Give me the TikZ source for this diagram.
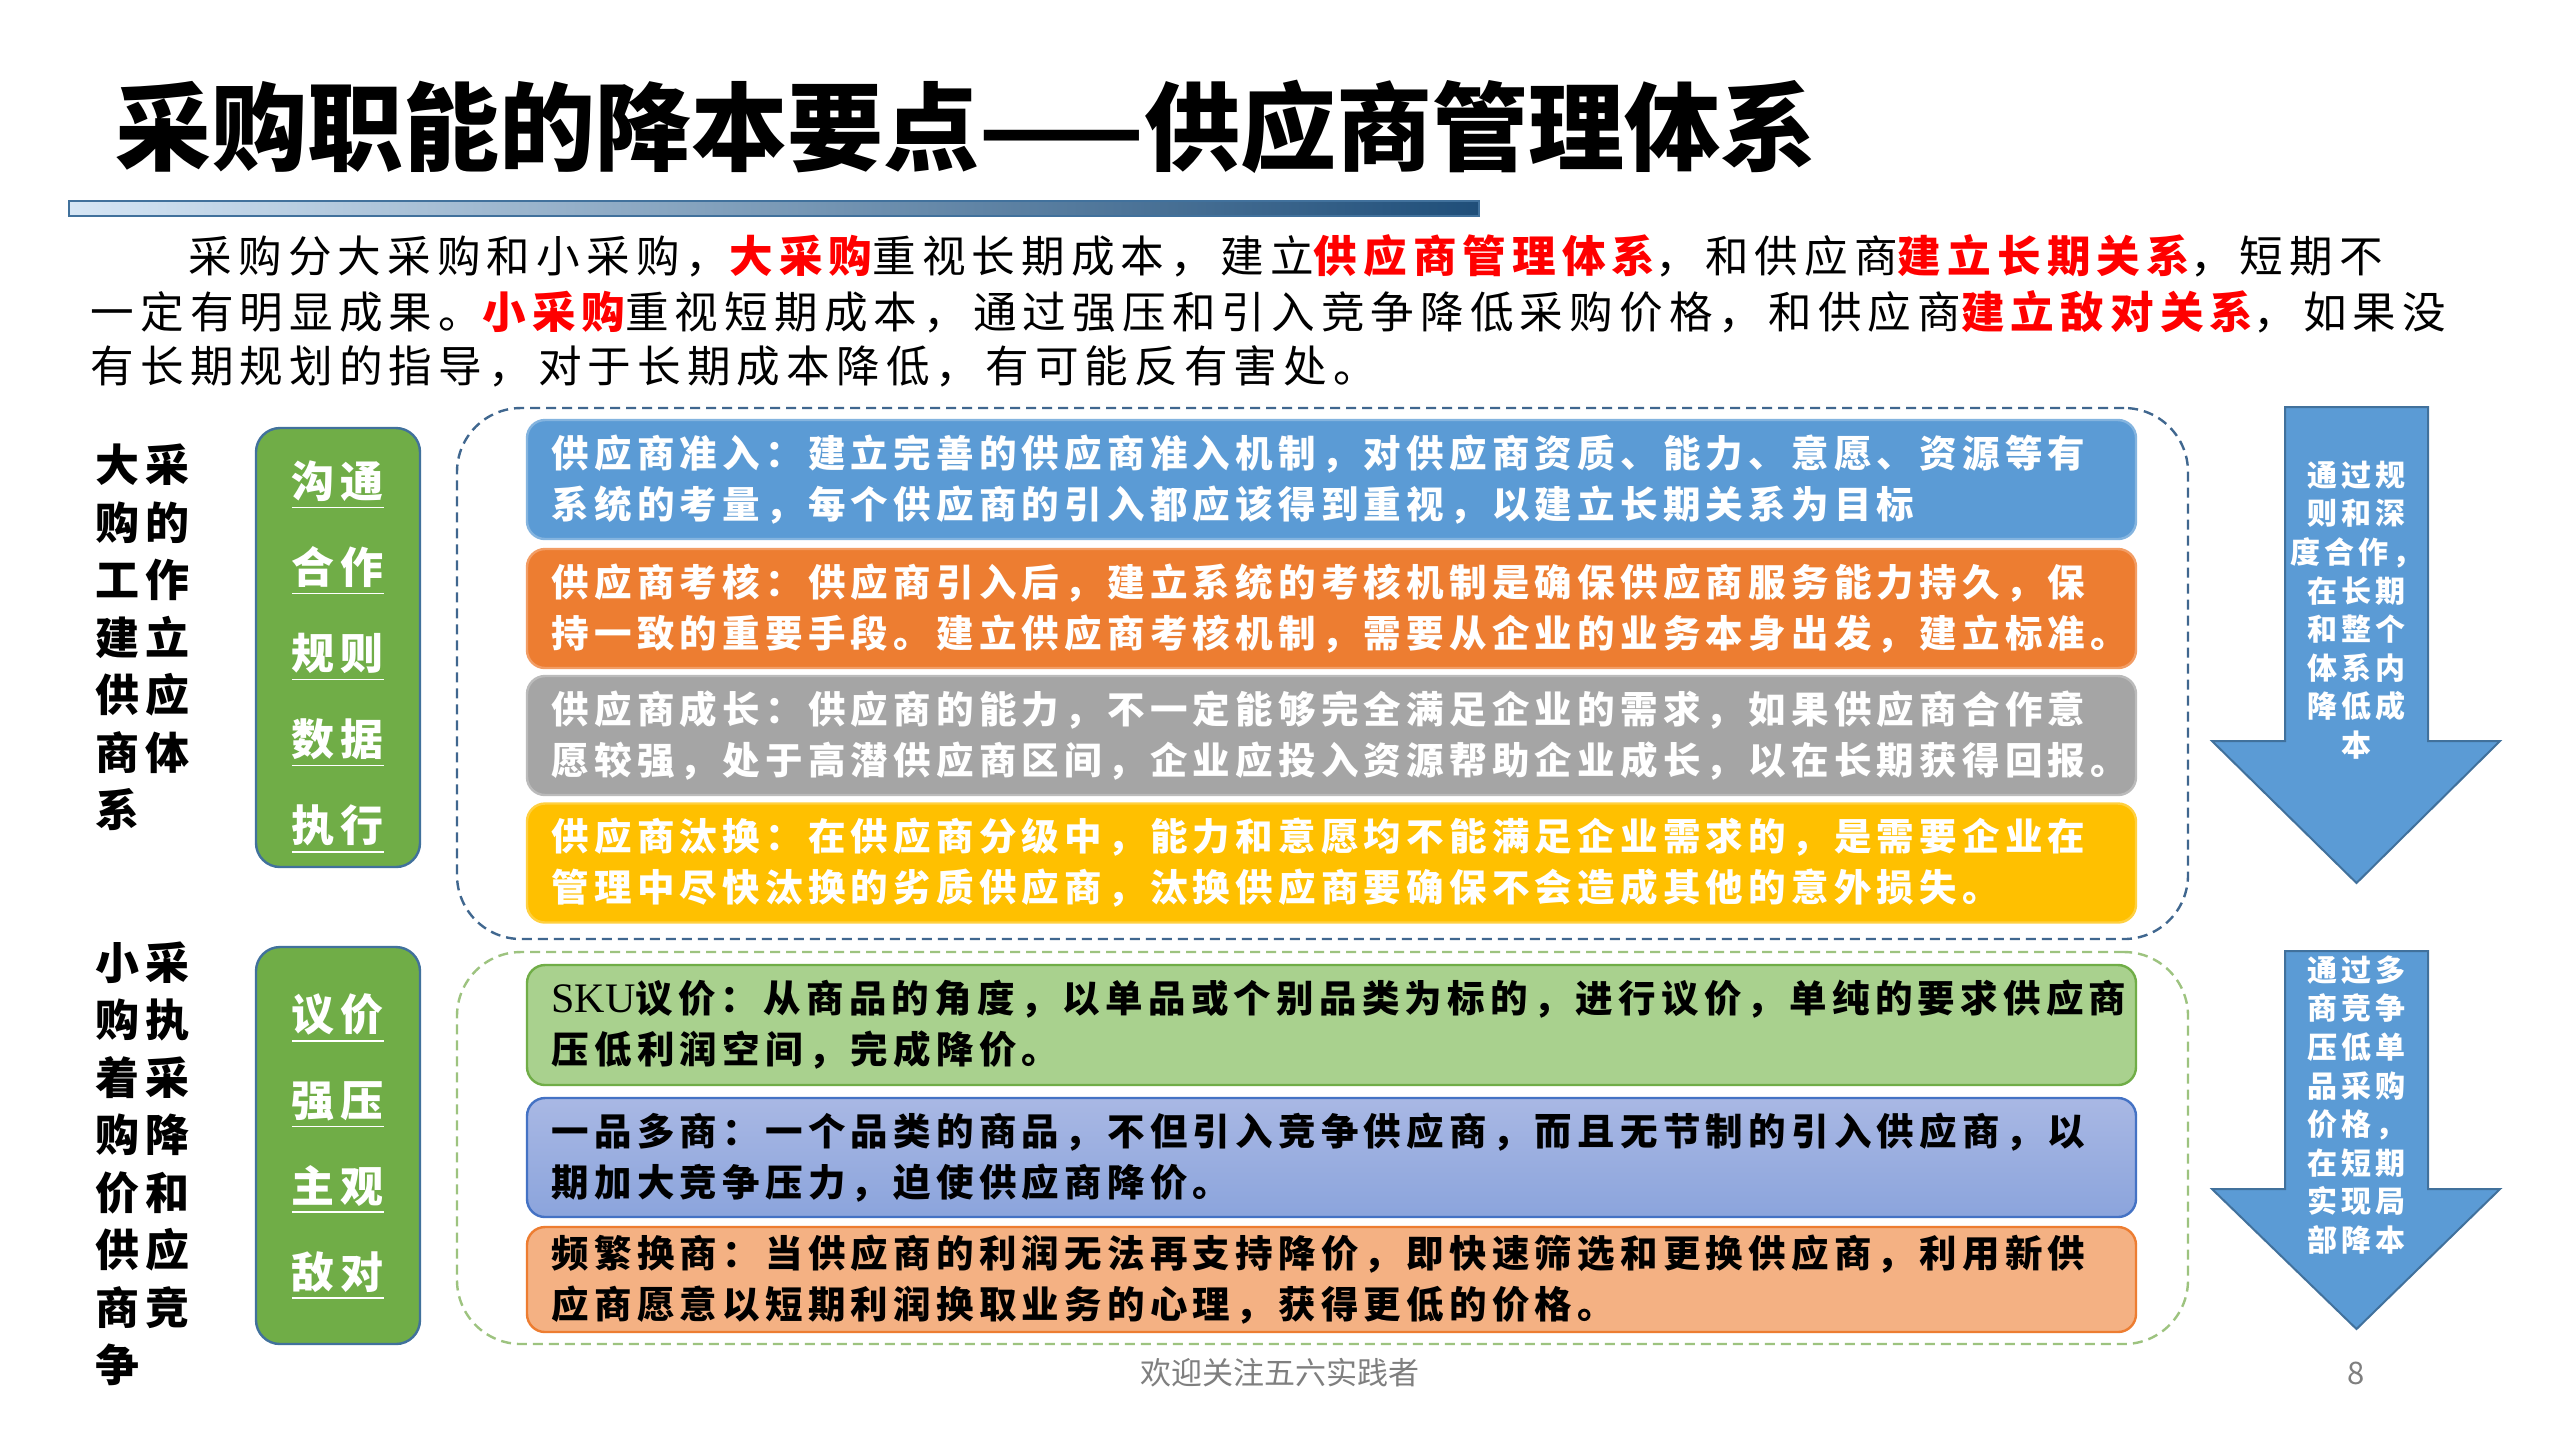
\documentclass[tikz,border=0pt]{standalone}
\usepackage{fontspec}
\setmainfont{Noto Sans CJK SC}
\newfontfamily\spaced[LetterSpace=14]{Noto Sans CJK SC}
\newfontfamily\latinserif{Liberation Serif}
\usepackage{tikz}
\definecolor{barblue}{HTML}{1F4E79}
\definecolor{barlight}{HTML}{D6E6F5}
\definecolor{barmid}{HTML}{7FA9D4}
\definecolor{tagfill}{HTML}{70AD47}
\definecolor{tagedge}{HTML}{41719C}
\definecolor{stepblue}{HTML}{5B9BD5}
\definecolor{steporange}{HTML}{ED7D31}
\definecolor{stepgray}{HTML}{A5A5A5}
\definecolor{stepgold}{HTML}{FFC000}
\definecolor{tacgreen}{HTML}{A9D18E}
\definecolor{tacbluetop}{HTML}{A9B8E4}
\definecolor{tacbluebot}{HTML}{8BA4DC}
\definecolor{tacblueedge}{HTML}{4472C4}
\definecolor{tacsalmon}{HTML}{F4B183}
\definecolor{framegreen}{HTML}{9DC37F}
\definecolor{frameblue}{HTML}{40678F}
\definecolor{footgray}{HTML}{7F7F7F}
\newcommand{\redword}[1]{{\color{red}\bfseries #1}}
\tikzset{
	titletxt/.style={font=\fontsize{24}{28}\selectfont\bfseries, inner sep=0pt, anchor=west},
	introtxt/.style={font=\spaced\fontsize{10.9}{13}\selectfont, inner sep=0pt, anchor=west},
	sidetxt/.style={font=\spaced\bfseries\fontsize{11}{14.375}\selectfont, align=left, inner sep=0pt, anchor=west},
	tagpanel/.style={draw=tagedge, fill=tagfill, rounded corners=6pt, line width=0.6pt, minimum width=41pt},
	tagtxt/.style={text=white, font=\spaced\bfseries\fontsize{10.75}{21.5}\selectfont, align=center, inner sep=0pt},
	dashframe/.style={draw, rounded corners=16pt, line width=0.6pt, dash pattern=on 2.5pt off 1.5pt, minimum width=432.75pt},
	stepbox/.style={rounded corners=4.5pt, line width=0.6pt, minimum width=402.25pt, minimum height=29.75pt,
		text width=390pt, align=left, inner xsep=0pt, inner ysep=0pt, font=\spaced\bfseries\fontsize{9.375}{12.75}\selectfont},
	downarrow/.style={fill=stepblue, draw=tagedge, line width=0.5pt},
	arrowtxt/.style={text=white, font=\spaced\bfseries\fontsize{7.5}{9.65}\selectfont, align=center, inner sep=0pt},
	footer/.style={text=footgray, font=\fontsize{7.75}{9}\selectfont, inner sep=0pt},
}

\begin{document}
\begin{tikzpicture}[x=0.25pt,y=-0.25pt]
\useasboundingbox (0,0) rectangle (2560,1440);
\fill[white] (0,0) rectangle (2560,1440);
% TITLE
\node[titletxt] (title) at (115,127) {采购职能的降本要点——供应商管理体系};
\shade[left color=barlight, middle color=barmid, right color=barblue] (69,201) rectangle (1479,216);
\draw[tagedge, line width=0.4pt] (69,201) rectangle (1479,216);
% INTRO
\node[introtxt] (intro1) at (188,256) {采购分大采购和小采购，\redword{大采购}重视长期成本，建立\redword{供应商管理体系}，和供应商\redword{建立长期关系}，短期不};
\node[introtxt] (intro2) at (90,312) {一定有明显成果。\redword{小采购}重视短期成本，通过强压和引入竞争降低采购价格，和供应商\redword{建立敌对关系}，如果没};
\node[introtxt] (intro3) at (90,366) {有长期规划的指导，对于长期成本降低，有可能反有害处。};
% LEFT LABELS
\node[sidetxt] (bigside) at (95,637.5) {大采\\购的\\工作\\建立\\供应\\商体\\系};
\node[sidetxt] (smallside) at (95,1164) {小采\\购执\\着采\\购降\\价和\\供应\\商竞\\争};
% GREEN PANELS
\node[tagpanel, minimum height=109.75pt] (bigpanel) at (338,647.5) {};
\node[tagtxt] (bigtags) at (338,657.5) {\underline{沟通}\\\underline{合作}\\\underline{规则}\\\underline{数据}\\\underline{执行}};
\node[tagpanel, minimum height=99.25pt] (smallpanel) at (338,1145.5) {};
\node[tagtxt] (smalltags) at (338,1147) {\underline{议价}\\\underline{强压}\\\underline{主观}\\\underline{敌对}};
% DASHED FRAMES
\node[dashframe, frameblue, minimum height=132.75pt] (bigframe) at (1322.5,673.5) {};
\node[dashframe, framegreen, minimum height=98pt] (smallframe) at (1322.5,1148) {};
% SUPPLIER STEPS
\node[stepbox, fill=stepblue, draw=stepblue!75!white, text=white] (admit) at (1331.5,479.5)
	{供应商准入：建立完善的供应商准入机制，对供应商资质、能力、意愿、资源等有\\系统的考量，每个供应商的引入都应该得到重视，以建立长期关系为目标};
\node[stepbox, fill=steporange, draw=steporange!75!white, text=white] (assess) at (1331.5,608.5)
	{供应商考核：供应商引入后，建立系统的考核机制是确保供应商服务能力持久，保\\持一致的重要手段。建立供应商考核机制，需要从企业的业务本身出发，建立标准。};
\node[stepbox, fill=stepgray, draw=stepgray!75!white, text=white] (grow) at (1331.5,735.5)
	{供应商成长：供应商的能力，不一定能够完全满足企业的需求，如果供应商合作意\\愿较强，处于高潜供应商区间，企业应投入资源帮助企业成长，以在长期获得回报。};
\node[stepbox, fill=stepgold, draw=stepgold!75!white, text=white] (retire) at (1331.5,863)
	{供应商汰换：在供应商分级中，能力和意愿均不能满足企业需求的，是需要企业在\\管理中尽快汰换的劣质供应商，汰换供应商要确保不会造成其他的意外损失。};
% PRICE TACTICS
\node[stepbox, fill=tacgreen, draw=tagfill, minimum height=30pt] (skuprice) at (1331.5,1025)
	{{\latinserif\mdseries\fontsize{10.5}{12.75}\selectfont SKU}议价：从商品的角度，以单品或个别品类为标的，进行议价，单纯的要求供应商\\压低利润空间，完成降价。};
\node[stepbox, top color=tacbluetop, bottom color=tacbluebot, draw=tacblueedge] (multisource) at (1331.5,1157.5)
	{一品多商：一个品类的商品，不但引入竞争供应商，而且无节制的引入供应商，以\\期加大竞争压力，迫使供应商降价。};
\node[stepbox, fill=tacsalmon, draw=steporange, minimum height=26.25pt] (swap) at (1331.5,1279.5)
	{频繁换商：当供应商的利润无法再支持降价，即快速筛选和更换供应商，利用新供\\应商愿意以短期利润换取业务的心理，获得更低的价格。};
% ARROWS
\draw[downarrow] (2285,407) -- (2428,407) -- (2428,741) -- (2500,741) -- (2356.5,883) -- (2212,741) -- (2285,741) -- cycle;
\node[arrowtxt] (bigway) at (2356.5,610) {通过规\\则和深\\度合作，\\在长期\\和整个\\体系内\\降低成\\本};
\draw[downarrow] (2285,951) -- (2428,951) -- (2428,1189) -- (2500,1189) -- (2356.5,1329) -- (2212,1189) -- (2285,1189) -- cycle;
\node[arrowtxt] (smallway) at (2356.5,1105) {通过多\\商竞争\\压低单\\品采购\\价格，\\在短期\\实现局\\部降本};
% FOOTER
\node[footer] (thanks) at (1280,1373) {欢迎关注五六实践者};
\node[footer] (pageno) at (2356,1373) {8};
\end{tikzpicture}
\end{document}
